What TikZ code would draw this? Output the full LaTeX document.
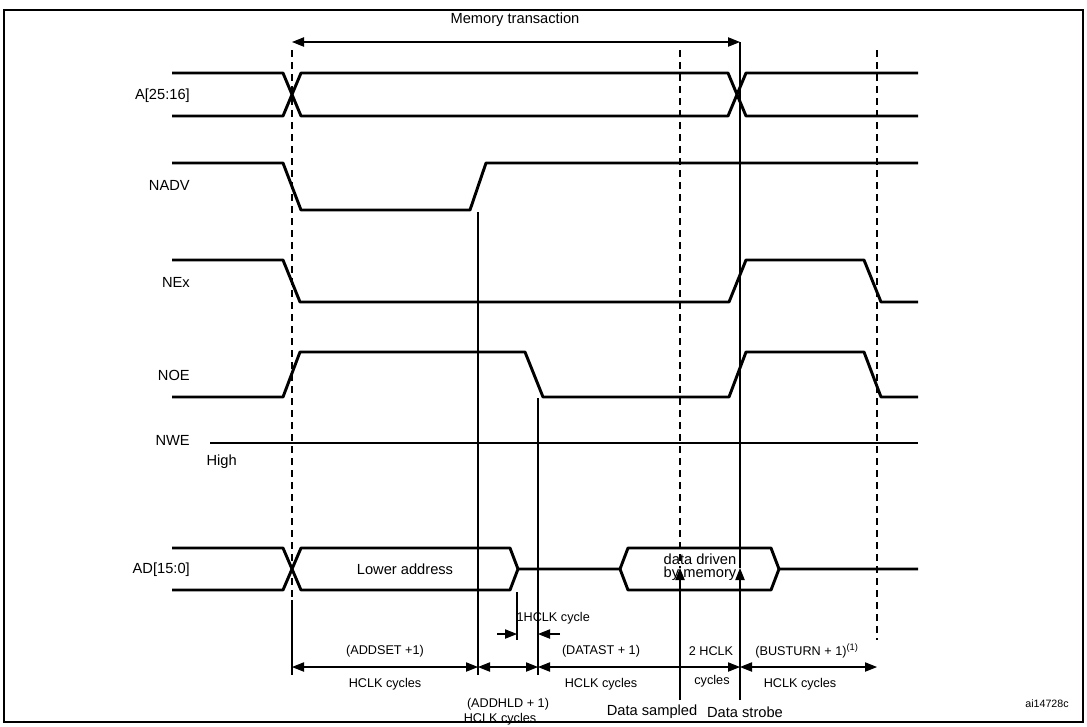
\documentclass[tikz,border=0pt]{standalone}
\usepackage{fontspec}
\setmainfont{Liberation Sans}
\usetikzlibrary{arrows.meta}
\begin{document}
\begin{tikzpicture}[x=0.75pt,y=-0.75pt,
  sig/.style={line width=2.2pt,line join=round},
  thn/.style={line width=0.8pt},
  dsh/.style={line width=0.8pt,dash pattern=on 5pt off 4pt},
  dim/.style={line width=0.8pt,{Triangle[length=9pt,width=7pt]}-{Triangle[length=9pt,width=7pt]}},
  tip/.style={line width=0.8pt,-{Triangle[length=9pt,width=7pt]}},
  lab/.style={font=\fontsize{11}{12}\selectfont,inner sep=1pt},
  slab/.style={font=\fontsize{9.5}{10}\selectfont,inner sep=1pt},
  sname/.style={font=\fontsize{11}{12}\selectfont,anchor=east,inner sep=0pt}]
\useasboundingbox (0,0) rectangle (1087,726);
\draw[line width=1.2pt] (4,10) rectangle (1083,722);
% names
\node[sname] (nA) at (190,96) {A[25:16]};
\node[sname] (nN) at (190,185) {NADV};
\node[sname] (nE) at (190,282) {NEx};
\node[sname] (nO) at (190,375) {NOE};
\node[sname] (nW) at (190,440) {NWE};
\node[lab,anchor=west] (hi) at (205,462) {High};
\node[sname] (nD) at (190,570) {AD[15:0]};
% signals
\draw[sig] (172,73) -- (283,73) -- (301,116) -- (728,116) -- (746,73) -- (918,73);
\draw[sig] (172,116) -- (283,116) -- (301,73) -- (728,73) -- (746,116) -- (918,116);
\draw[sig] (172,163) -- (283,163) -- (301,210) -- (470,210) -- (486,163) -- (918,163);
\draw[sig] (172,260) -- (283,260) -- (300,302) -- (729,302) -- (746,260) -- (864,260) -- (881,302) -- (918,302);
\draw[sig] (172,397) -- (283,397) -- (300,352) -- (525,352) -- (543,397) -- (729,397) -- (746,352) -- (864,352) -- (881,397) -- (918,397);
\draw[sig] (210,443) -- (918,443);
\draw[sig] (172,548) -- (283,548) -- (301,590) -- (510,590) -- (518,569) -- (620,569) -- (628,590) -- (771,590) -- (779,569) -- (918,569);
\draw[sig] (172,590) -- (283,590) -- (301,548) -- (510,548) -- (518,569);
\draw[sig] (620,569) -- (628,548) -- (771,548) -- (779,569);
\node[lab] (la) at (405,569) {Lower address};
\node[lab,align=center,font=\fontsize{11}{10}\selectfont] (dd) at (700,567) {data driven\\by memory};
% guide lines
\draw[dsh] (292,50) -- (292,600);
\draw[dsh] (680,50) -- (680,568);
\draw[dsh] (877,50) -- (877,640);
\draw[thn] (292,600) -- (292,675);
\draw[thn] (740,42) -- (740,568);
\draw[thn] (478,212) -- (478,675);
\draw[thn] (538,398) -- (538,675);
\draw[thn] (517,592) -- (517,640);
% memory transaction
\coordinate (m1) at (292,42); \coordinate (m2) at (740,42);
\draw[dim] (m1) -- (m2);
\node[lab] (mt) at (515,20) {Memory transaction};
% 1HCLK
\node[slab,anchor=west] (h1) at (515,618) {1HCLK cycle};
\coordinate (c1) at (497,634); \coordinate (c2) at (517,634);
\coordinate (c3) at (560,634); \coordinate (c4) at (538,634);
\draw[tip] (c1) -- (c2);
\draw[tip] (c3) -- (c4);
% dimension row
\coordinate (d0) at (292,667); \coordinate (d1) at (478,667);
\coordinate (d2) at (538,667); \coordinate (d3) at (740,667);
\coordinate (d4) at (877,667);
\draw[dim] (d0) -- (d1);
\draw[dim] (d1) -- (d2);
\draw[dim] (d2) -- (d3);
\draw[dim] (d3) -- (d4);
\node[slab] at (385,651) {(ADDSET +1)};
\node[slab] at (385,684) {HCLK cycles};
\node[slab] at (508,704) {(ADDHLD + 1)};
\node[slab] at (500,719) {HCLK cycles};
\node[slab] at (601,651) {(DATAST + 1)};
\node[slab] at (601,684) {HCLK cycles};
\node[slab] at (711,651) {2 HCLK};
\node[slab] at (712,681) {cycles};
\node[slab] at (807,651) {(BUSTURN + 1)\textsuperscript{\fontsize{7}{7}\selectfont(1)}};
\node[slab] at (800,684) {HCLK cycles};
% data sampled / strobe
\coordinate (s0) at (680,700); \coordinate (s1) at (680,568);
\coordinate (t0) at (740,700); \coordinate (t1) at (740,568);
\draw[tip] (s0) -- (s1);
\draw[tip] (t0) -- (t1);
\node[lab] (ds) at (652,712) {Data sampled};
\node[lab] (dst) at (745,712) {Data strobe};
\node[font=\fontsize{8}{9}\selectfont] (id) at (1047,704) {ai14728c};
\end{tikzpicture}
\end{document}
